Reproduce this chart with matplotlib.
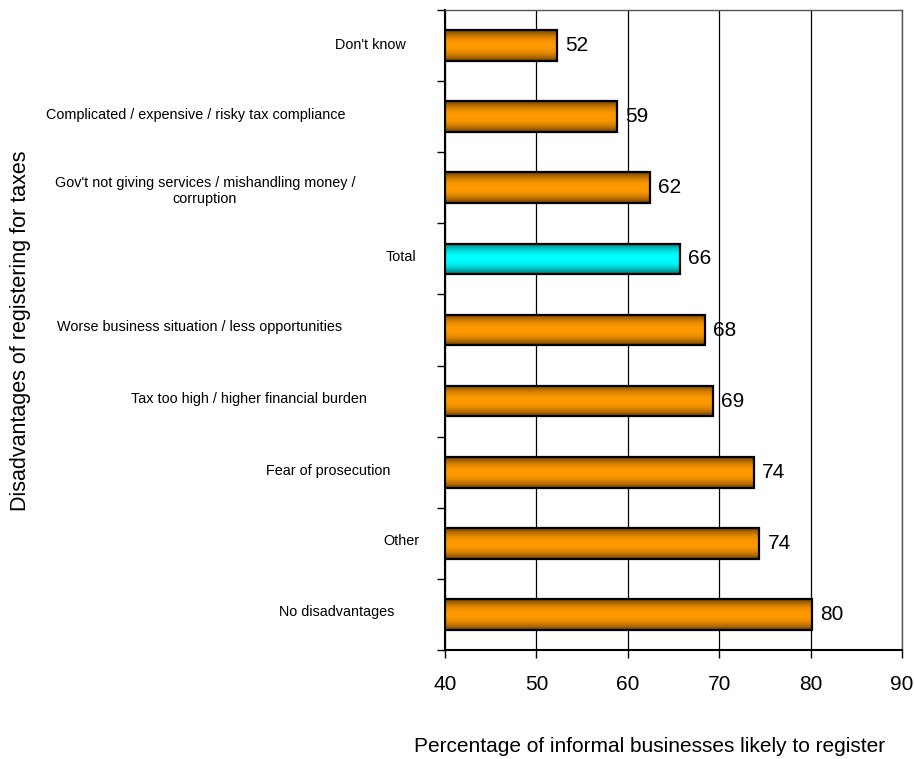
import numpy as np
import matplotlib
matplotlib.use('Agg')
import matplotlib.pyplot as plt

# reasons given, top to bottom
reasons = ["Don't know",
	"Complicated / expensive / risky tax compliance",
	"Gov't not giving services / mishandling money /\ncorruption",
	"Total",
	"Worse business situation / less opportunities",
	"Tax too high / higher financial burden",
	"Fear of prosecution",
	"Other",
	"No disadvantages"]
pct = [52.2, 58.8, 62.4, 65.7, 68.4, 69.3, 73.8, 74.4, 80.1]
is_total = [False, False, False, True, False, False, False, False, False]
xticks = [40, 50, 60, 70, 80, 90]

# where each category label sits (pixels from left / top of the figure)
label_x = [370, 196, 205, 401, 200, 249, 328, 401, 337]
label_y = [45, 115, 191, 257, 327, 399, 471, 541, 612]

W, H = 914, 759

def shade(edge, mid, n=60):
	t = np.linspace(-1, 1, n)
	w = np.abs(t) ** 2.2
	col = np.array(mid)[None, :] * (1 - w[:, None]) + np.array(edge)[None, :] * w[:, None]
	return col[:, None, :]

orange = shade((0.42, 0.25, 0.0), (1.0, 0.6, 0.0))
cyan = shade((0.0, 0.42, 0.42), (0.0, 1.0, 1.0))

fig = plt.figure(figsize=(W / 100.0, H / 100.0), dpi=100)
ax = fig.add_axes([445.0 / W, (H - 650.0) / H, (902.0 - 445.0) / W, 640.0 / H])

y = np.arange(len(pct))
hgt = 0.43
for i in range(len(pct)):
	img = cyan if is_total[i] else orange
	ax.imshow(img, extent=(xticks[0], pct[i], y[i] + hgt / 2, y[i] - hgt / 2),
		aspect='auto', origin='upper', zorder=3, interpolation='bilinear')
	ax.barh(y[i], pct[i] - xticks[0], left=xticks[0], height=hgt, facecolor='none',
		edgecolor='black', linewidth=1.6, zorder=4)
	ax.annotate('%.0f' % pct[i], (pct[i], y[i]), xytext=(6, 0), textcoords='offset points',
		ha='left', va='center', fontsize=15, family='Liberation Sans', zorder=5)

ax.set_xlim(40, 90)
ax.set_ylim(len(pct) - 0.5, -0.5)
ax.set_xticks(xticks)
ax.set_xticklabels([str(v) for v in xticks], fontsize=15, family='Liberation Sans')
ax.set_yticks(np.arange(-0.5, len(pct)))
ax.set_yticklabels([])
ax.tick_params(axis='x', direction='out', length=6, width=1, pad=12)
ax.tick_params(axis='y', direction='out', length=6, width=1)
ax.xaxis.grid(True, color='black', linewidth=0.9, zorder=1)
ax.set_axisbelow(True)
for s in ['left', 'bottom']:
	ax.spines[s].set_linewidth(1.5)
for s in ['top', 'right']:
	ax.spines[s].set_linewidth(1.0)
	ax.spines[s].set_color('#555555')

for i in range(len(reasons)):
	fig.text(label_x[i] / W, 1 - label_y[i] / H, reasons[i], ha='center', va='center',
		multialignment='center', fontsize=10.4, family='Liberation Sans')

fig.text(21.0 / W, 1 - 331.0 / H, 'Disadvantages of registering for taxes', rotation=90,
	ha='center', va='center', fontsize=15.5, family='Liberation Sans')
fig.text(650.0 / W, 1 - 747.0 / H, 'Percentage of informal businesses likely to register',
	ha='center', va='center', fontsize=15, family='Liberation Sans')

fig.savefig('out.png', dpi=100)
